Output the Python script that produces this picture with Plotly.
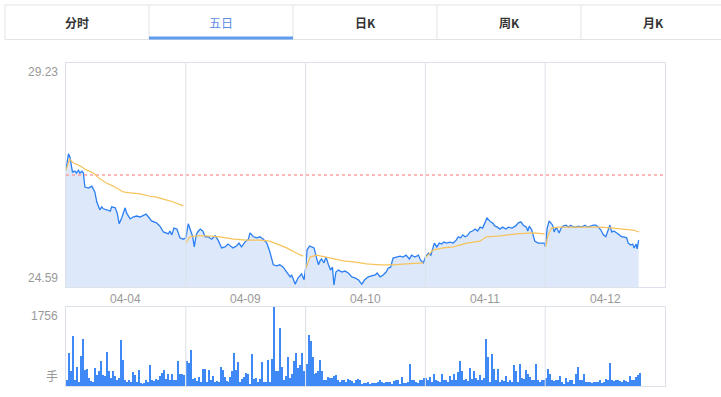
import plotly.graph_objects as go

# ---------------- data ----------------
dates = ["04-04", "04-09", "04-10", "04-11", "04-12"]
tabs = ["分时", "五日", "日K", "周K", "月K"]
active_tab = 1
pre_close = 26.91
price_ticks = [24.59, 29.23]
vol_max = 1756
vol_unit = "手"
mins_per_day = 241
vol_step = 4

day1_min = [0, 5, 8, 13, 18, 21, 25, 28, 32, 35, 38, 45, 52, 55, 58, 62, 68, 72, 75, 82, 89, 92, 99, 103, 107, 112,
            119, 122, 129, 135, 142, 149, 156, 161, 166, 172, 182, 189, 196, 203, 206, 209, 213, 217, 223, 226, 229, 236]
day1_price = [27.01, 27.35, 27.28, 26.97, 26.99, 26.95, 27.01, 26.95, 26.99, 26.95, 26.66, 26.64, 26.68, 26.62, 26.56,
              26.35, 26.19, 26.25, 26.21, 26.19, 26.16, 26.25, 26.23, 26.12, 25.90, 26.02, 26.23, 26.12, 26.00, 26.04,
              26.06, 26.04, 26.08, 26.10, 26.04, 25.96, 25.92, 25.85, 25.73, 25.71, 25.69, 25.75, 25.67, 25.81, 25.79,
              25.71, 25.61, 25.58]
day2_min = [0, 5, 10, 14, 17, 21, 24, 29, 34, 39, 45, 52, 59, 65, 72, 79, 85, 92, 95, 102, 107, 112, 119, 126, 129,
            136, 143, 149, 156, 163, 169, 176, 183, 189, 196, 203, 210, 213, 220, 226, 233, 238]
day2_price = [25.61, 25.90, 25.75, 25.63, 25.42, 25.67, 25.73, 25.79, 25.75, 25.63, 25.63, 25.58, 25.65, 25.56, 25.40,
              25.42, 25.48, 25.42, 25.40, 25.44, 25.50, 25.42, 25.52, 25.58, 25.71, 25.63, 25.61, 25.63, 25.58, 25.50,
              25.32, 25.05, 25.03, 25.05, 25.00, 24.90, 24.80, 24.84, 24.65, 24.78, 24.86, 24.74]
day3_min = [0, 3, 8, 12, 17, 22, 26, 29, 32, 37, 41, 46, 50, 54, 57, 61, 66, 73, 79, 86, 93, 99, 106, 113, 119, 126,
            133, 140, 144, 150, 156, 162, 166, 171, 176, 183, 190, 196, 202, 209, 213, 220, 227, 231, 237]
day3_price = [24.98, 25.36, 25.44, 25.42, 25.40, 25.19, 25.05, 25.13, 25.17, 25.09, 25.21, 25.05, 24.94, 25.00, 24.63,
              24.90, 24.94, 24.90, 24.92, 24.88, 24.80, 24.78, 24.74, 24.65, 24.74, 24.80, 24.82, 24.84, 24.88, 24.80,
              24.84, 24.90, 24.98, 25.00, 25.19, 25.21, 25.23, 25.21, 25.25, 25.17, 25.25, 25.21, 25.25, 25.15, 25.09]
day4_min = [0, 6, 11, 15, 18, 23, 28, 33, 37, 43, 49, 56, 62, 66, 71, 75, 80, 84, 90, 95, 100, 105, 110, 115, 120,
            124, 131, 135, 140, 145, 150, 155, 162, 167, 174, 181, 187, 192, 197, 203, 206, 209, 214, 217, 220, 227,
            234, 239]
day4_price = [25.21, 25.29, 25.25, 25.40, 25.50, 25.42, 25.50, 25.48, 25.52, 25.50, 25.52, 25.50, 25.56, 25.63, 25.61,
              25.67, 25.63, 25.65, 25.73, 25.75, 25.79, 25.75, 25.83, 25.81, 25.92, 26.02, 25.94, 25.92, 25.85, 25.83,
              25.79, 25.83, 25.79, 25.83, 25.81, 25.85, 25.92, 25.94, 25.87, 25.83, 25.75, 25.85, 25.77, 25.63, 25.54,
              25.50, 25.50, 25.50]
day5_min = [0, 4, 8, 12, 15, 18, 22, 25, 28, 32, 36, 42, 47, 51, 57, 62, 67, 73, 80, 85, 90, 97, 102, 107, 112, 117,
            122, 126, 130, 134, 138, 144, 149, 154, 158, 164, 167, 172, 176, 179, 183, 185, 188]
day5_price = [25.42, 25.81, 25.96, 25.92, 25.87, 25.73, 25.83, 25.77, 25.71, 25.81, 25.85, 25.87, 25.83, 25.87, 25.83,
              25.83, 25.85, 25.83, 25.87, 25.83, 25.85, 25.87, 25.87, 25.83, 25.77, 25.67, 25.63, 25.77, 25.87, 25.73,
              25.75, 25.71, 25.67, 25.63, 25.63, 25.61, 25.50, 25.46, 25.48, 25.40, 25.48, 25.38, 25.56]

avg1_min = [0, 7, 15, 28, 42, 55, 68, 82, 95, 109, 115, 129, 149, 169, 182, 196, 216, 236]
avg1 = [27.01, 27.24, 27.16, 27.10, 27.01, 26.95, 26.83, 26.74, 26.68, 26.60, 26.56, 26.54, 26.52, 26.47, 26.45, 26.41,
        26.35, 26.27]
avg2_min = [0, 8, 22, 42, 69, 96, 122, 149, 169, 183, 203, 223, 236]
avg2 = [25.50, 25.63, 25.65, 25.65, 25.63, 25.58, 25.56, 25.56, 25.54, 25.48, 25.40, 25.29, 25.23]
avg3_min = [1, 9, 22, 42, 56, 76, 96, 123, 150, 176, 203, 237]
avg3 = [24.98, 25.21, 25.25, 25.21, 25.17, 25.13, 25.11, 25.07, 25.05, 25.05, 25.07, 25.09]
avg4_min = [1, 16, 36, 56, 83, 110, 123, 150, 183, 217, 240]
avg4 = [25.21, 25.36, 25.40, 25.42, 25.50, 25.54, 25.63, 25.65, 25.69, 25.71, 25.69]
avg5_min = [1, 6, 13, 26, 57, 84, 110, 137, 157, 177, 189]
avg5 = [25.42, 25.67, 25.81, 25.83, 25.83, 25.83, 25.83, 25.81, 25.79, 25.77, 25.73]

vol1 = [127, 740, 330, 1120, 130, 425, 90, 672, 1053, 350, 388, 180, 120, 90, 403, 240, 330, 560, 240, 220,
        755, 330, 170, 330, 220, 140, 170, 1023, 575, 130, 100, 130, 90, 314, 240, 90, 366, 70, 50, 75,
        130, 80, 463, 130, 110, 165, 130, 220, 291, 366, 165, 261, 140, 260, 130, 130, 553, 260, 260, 240]
vol2 = [560, 515, 800, 165, 187, 120, 200, 90, 373, 373, 90, 351, 130, 220, 90, 110, 90, 425, 366, 200,
        120, 90, 200, 330, 740, 351, 538, 90, 165, 200, 291, 260, 50, 710, 165, 187, 90, 165, 523, 90,
        90, 575, 90, 590, 1756, 330, 330, 1285, 425, 130, 220, 635, 180, 260, 560, 725, 403, 463, 725, 330]
vol3 = [485, 1135, 1008, 650, 276, 291, 330, 575, 330, 127, 140, 200, 187, 187, 217, 240, 140, 90, 127, 127,
        90, 165, 127, 110, 70, 140, 165, 127, 50, 70, 70, 90, 50, 70, 70, 70, 90, 127, 90, 70,
        90, 90, 90, 50, 110, 140, 127, 50, 200, 70, 70, 90, 485, 140, 127, 90, 70, 127, 140, 187]
vol4 = [187, 140, 200, 90, 276, 127, 110, 90, 276, 127, 127, 90, 217, 140, 276, 127, 314, 560, 330, 127,
        165, 110, 403, 150, 336, 187, 140, 240, 140, 187, 1046, 650, 90, 710, 373, 127, 388, 90, 127, 110,
        217, 90, 127, 90, 478, 330, 90, 485, 187, 165, 351, 260, 200, 127, 127, 485, 127, 90, 140, 140]
vol5 = [187, 388, 261, 127, 110, 127, 127, 217, 90, 50, 187, 90, 127, 140, 50, 261, 425, 127, 142, 261,
        90, 90, 90, 70, 90, 90, 90, 127, 70, 90, 165, 127, 515, 127, 110, 127, 140, 110, 90, 140,
        105, 90, 217, 127, 140, 200, 240, 290]

# ---------------- assemble ----------------
days_min = [day1_min, day2_min, day3_min, day4_min, day5_min]
days_price = [day1_price, day2_price, day3_price, day4_price, day5_price]
avg_min = [avg1_min, avg2_min, avg3_min, avg4_min, avg5_min]
avg_val = [avg1, avg2, avg3, avg4, avg5]
vols = [vol1, vol2, vol3, vol4, vol5]
n_days = len(dates)
x_total = n_days * mins_per_day

px_x, px_y = [], []
for d in range(n_days):
    for m, p in zip(days_min[d], days_price[d]):
        px_x.append(d * mins_per_day + m)
        px_y.append(p)

av_x, av_y = [], []
for d in range(n_days):
    for m, p in zip(avg_min[d], avg_val[d]):
        av_x.append(d * mins_per_day + m)
        av_y.append(p)
    av_x.append(None)
    av_y.append(None)

vx, vy = [], []
for d in range(n_days):
    for k, v in enumerate(vols[d]):
        vx.append(d * mins_per_day + k * vol_step + vol_step / 2)
        vy.append(v)

W, H = 721, 397


def xp(px):
    return px / W


def yp(py):
    return 1 - py / H


fig = go.Figure()
fig.add_trace(go.Scatter(x=px_x, y=px_y, mode="lines", line=dict(color="#2b7ff2", width=1.3),
                         fill="tozeroy", fillcolor="#dde9fb", xaxis="x", yaxis="y", hoverinfo="skip"))
fig.add_trace(go.Scatter(x=[0, x_total], y=[pre_close, pre_close], mode="lines",
                         line=dict(color="#ff9f9f", width=1.6, dash="dot"), xaxis="x", yaxis="y"))
fig.add_trace(go.Scatter(x=av_x, y=av_y, mode="lines", line=dict(color="#f7c35a", width=1.2),
                         connectgaps=False, xaxis="x", yaxis="y"))
fig.add_trace(go.Bar(x=vx, y=vy, width=2.2, marker=dict(color="#3f89f6", line=dict(width=0)),
                     xaxis="x2", yaxis="y2"))

border = "#dde2ea"
xdom = [xp(66), xp(665)]
fig.update_layout(
    width=W, height=H, margin=dict(l=0, r=0, t=0, b=0),
    paper_bgcolor="white", plot_bgcolor="white", showlegend=False, bargap=0,
    font=dict(family="Liberation Sans, Arial, sans-serif", size=12, color="#999999"),
    xaxis=dict(domain=xdom, range=[0, x_total], showgrid=False, zeroline=False, showticklabels=False,
               showline=True, mirror=True, linecolor=border, linewidth=1, fixedrange=True),
    yaxis=dict(domain=[yp(287), yp(63)], range=[price_ticks[0], price_ticks[1]], showgrid=False,
               zeroline=False, showticklabels=False, showline=True, mirror=True, linecolor=border, linewidth=1),
    xaxis2=dict(domain=xdom, range=[0, x_total], showgrid=False, zeroline=False, showticklabels=False,
                showline=True, mirror=True, linecolor=border, linewidth=1, anchor="y2"),
    yaxis2=dict(domain=[yp(386), yp(307)], range=[0, vol_max], showgrid=False, zeroline=False,
                showticklabels=False, showline=True, mirror=True, linecolor=border, linewidth=1, anchor="x2"),
)

shapes = []
for d in range(1, n_days):
    for ya in ["y", "y2"]:
        shapes.append(dict(type="line", xref="x", yref=f"{ya} domain", x0=d * mins_per_day, x1=d * mins_per_day,
                           y0=0, y1=1, line=dict(color="#dce1e8", width=1), layer="above"))

# tab bar
tab_w = 144
tab_left = 5
shapes.append(dict(type="rect", xref="paper", yref="paper", x0=xp(tab_left), x1=xp(W + 5), y0=yp(39.5), y1=yp(5),
                   line=dict(color="#e3e3e3", width=1), fillcolor="white", layer="below"))
for i in range(1, len(tabs)):
    xx = xp(tab_left + i * tab_w)
    shapes.append(dict(type="line", xref="paper", yref="paper", x0=xx, x1=xx, y0=yp(39.5), y1=yp(5),
                       line=dict(color="#e3e3e3", width=1)))
shapes.append(dict(type="rect", xref="paper", yref="paper", x0=xp(tab_left + active_tab * tab_w),
                   x1=xp(tab_left + (active_tab + 1) * tab_w), y0=yp(39.5), y1=yp(36.5),
                   line=dict(width=0), fillcolor="#5f9bef"))
fig.update_layout(shapes=shapes)

ann = []
for i, t in enumerate(tabs):
    ann.append(dict(x=xp(tab_left + i * tab_w + tab_w / 2), y=yp(22.5), xref="paper", yref="paper",
                    text=t if i == active_tab else f"<b>{t}</b>",
                    showarrow=False, xanchor="center", yanchor="middle",
                    font=dict(family="Noto Sans CJK SC, sans-serif", size=12,
                              color="#5a8ce6" if i == active_tab else "#333333")))
ann.append(dict(x=xp(60), y=price_ticks[1], xref="paper", yref="y", text=f"{price_ticks[1]:.2f}",
                showarrow=False, xanchor="right", yanchor="top"))
ann.append(dict(x=xp(60), y=price_ticks[0], xref="paper", yref="y", text=f"{price_ticks[0]:.2f}",
                showarrow=False, xanchor="right", yanchor="bottom"))
ann.append(dict(x=xp(60), y=vol_max, xref="paper", yref="y2", text=str(vol_max),
                showarrow=False, xanchor="right", yanchor="top"))
ann.append(dict(x=xp(60), y=0, xref="paper", yref="y2", text=vol_unit,
                showarrow=False, xanchor="right", yanchor="bottom",
                font=dict(family="Noto Sans CJK SC, sans-serif", size=12, color="#999999")))
for d, lab in enumerate(dates):
    ann.append(dict(x=d * mins_per_day + mins_per_day / 2, y=yp(298.5), xref="x", yref="paper", text=lab,
                    showarrow=False, xanchor="center", yanchor="middle"))
fig.update_layout(annotations=ann)

fig.write_html("out.html", config={"displayModeBar": False},
               post_script="document.body.style.margin='0';document.body.style.padding='0';")
